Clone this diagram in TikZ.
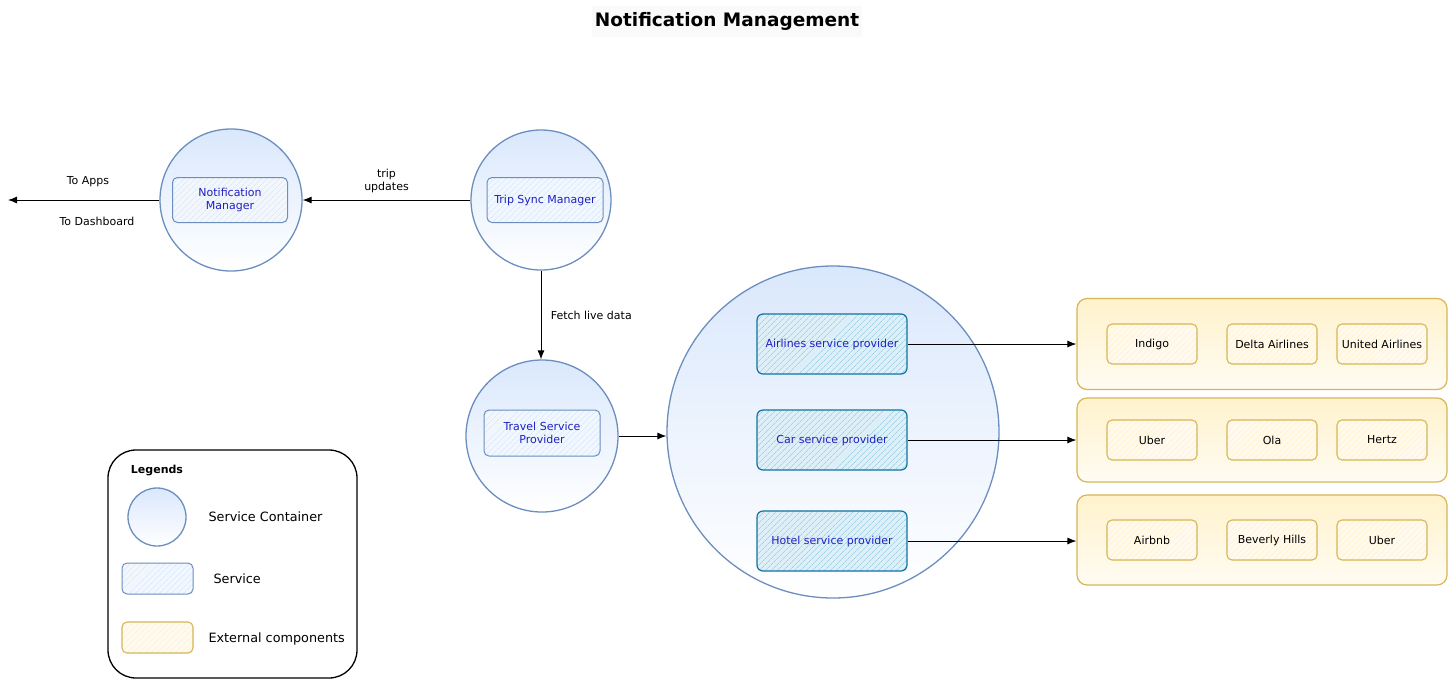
\documentclass[tikz,border=0pt]{standalone}
\usepackage{fontspec}
\setmainfont{DejaVu Sans}
\usetikzlibrary{arrows.meta}
\usetikzlibrary{patterns.meta}

\definecolor{containerline}{HTML}{6C8EBF}
\definecolor{containerfill}{HTML}{DAE8FC}
\definecolor{providerline}{HTML}{10739E}
\definecolor{providerfill}{HTML}{B1DDF0}
\definecolor{extline}{HTML}{D6B656}
\definecolor{extfill}{HTML}{FFF2CC}
\definecolor{labelblue}{HTML}{2020C0}

\tikzset{
	small/.style={font=\fontsize{11}{13}\selectfont, align=center},
	container/.style={circle, draw=containerline, line width=1.3pt,
		top color=containerfill, bottom color=white, inner sep=0pt},
	hatched/.style={preaction={fill=#1!35},
		pattern={Lines[angle=45,distance=4pt,line width=0.7pt]}, pattern color=#1},
	servicebox/.style={rectangle, rounded corners=5pt, draw=containerline, line width=1pt,
		hatched=containerfill, small, text=labelblue, inner sep=2pt},
	providerbox/.style={rectangle, rounded corners=6pt, draw=providerline, line width=1.2pt,
		hatched=providerfill!90!providerline, small, text=labelblue, minimum width=150pt, minimum height=60pt},
	extrow/.style={rectangle, rounded corners=10pt, draw=extline, line width=1.2pt,
		top color=extfill, bottom color=extfill!25, minimum width=370pt},
	extbox/.style={rectangle, rounded corners=5pt, draw=extline, line width=1.1pt,
		hatched=extfill, small, minimum width=90pt, minimum height=40pt},
	flow/.style={-{Latex[length=9pt,width=7pt]}, line width=0.9pt}
}

\begin{document}
\begin{tikzpicture}[x=1pt, y=-1pt]
\useasboundingbox (0,0) rectangle (1448,681);

\node[fill=black!2, font=\bfseries\fontsize{18.5}{22}\selectfont, minimum width=267pt, minimum height=31pt] (title) at (727,21) {Notification Management};

% service containers
\node[container, minimum size=142pt] (nmc) at (231,200) {};
\node[servicebox, minimum width=115pt, minimum height=45pt] (nm) at (230,200) {Notification\\Manager};

\node[container, minimum size=140pt] (tsc) at (541,200) {};
\node[servicebox, minimum width=116pt, minimum height=45pt] (ts) at (545,200) {Trip Sync Manager};

\node[container, minimum size=152pt] (tspc) at (542,436) {};
\node[servicebox, minimum width=116pt, minimum height=46pt] (tsp) at (542,433) {Travel Service\\Provider};

\node[container, minimum size=332pt] (bigc) at (833,432) {};
\node[providerbox] (air) at (832,344) {Airlines service provider};
\node[providerbox] (car) at (832,440) {Car service provider};
\node[providerbox] (hotel) at (832,541) {Hotel service provider};

% external components
\foreach \row/\y/\h/\a/\b/\c in {1/344/91/Indigo/Delta Airlines/United Airlines,
	2/440/84/Uber/Ola/Hertz, 3/540/90/Airbnb/Beverly Hills/Uber}
{
	\node[extrow, minimum height=\h pt] (ext\row) at (1262,\y) {};
	\node[extbox] (ext\row a) at (1152,\y) {\a};
	\node[extbox] (ext\row b) at (1272,\y) {\b};
	\node[extbox] (ext\row c) at (1382,\y) {\c};
}

% connectors
\coordinate (apps) at (8,200);
\draw[flow] (tsc.west) -- (nmc.east) node[midway, above=3pt, small] {trip\\updates};
\draw[flow] (nmc.west) -- (apps);
\node[small] (toapps) at (88,182) {To Apps};
\node[small] (todash) at (97,221) {To Dashboard};
\draw[flow] (tsc.south) -- (tsc.south |- tspc.north) node[midway, right=6pt, small] {Fetch live data};
\draw[flow] (tspc.east) -- (tspc.east -| bigc.west);
\draw[flow] (air.east) -- (air.east -| ext1.west);
\draw[flow] (car.east) -- (car.east -| ext2.west);
\draw[flow] (hotel.east) -- (hotel.east -| ext3.west);

% legend
\node[draw, line width=1.3pt, rounded corners=28pt, minimum width=249pt, minimum height=228pt] (legend) at (232.5,564) {};
\node[font=\bfseries\fontsize{11}{13}\selectfont] (legtitle) at (157,470) {Legends};
\node[container, minimum size=58pt] (legc) at (157,517) {};
\node[servicebox, minimum width=71pt, minimum height=31pt] (legs) at (157.5,578.5) {};
\node[extbox, minimum width=71pt, minimum height=31pt] (lege) at (157.5,637.5) {};
\node[anchor=west, font=\fontsize{12.8}{15}\selectfont] at (205,517) {Service Container};
\node[anchor=west, font=\fontsize{12.8}{15}\selectfont] at (210,579) {Service};
\node[anchor=west, font=\fontsize{12.8}{15}\selectfont] at (205,639) {External components};
\end{tikzpicture}
\end{document}
